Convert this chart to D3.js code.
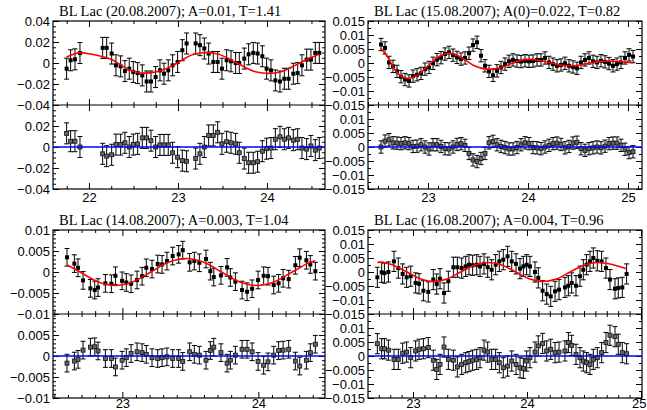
<!DOCTYPE html>
<html><head><meta charset="utf-8">
<script src="https://cdn.jsdelivr.net/npm/d3@7"></script>
<style>body{margin:0;background:#fff}svg{display:block}</style>
</head><body>
<svg id="c" width="647" height="410"></svg>
<script>
// ---------- data ----------
const titles = [
  "BL Lac (20.08.2007); A=0.01, T=1.41",
  "BL Lac (15.08.2007); A(0)=0.022, T=0.82",
  "BL Lac (14.08.2007); A=0.003, T=1.04",
  "BL Lac (16.08.2007); A=0.004, T=0.96"
];
const xTickLabels = [[22,23,24],[23,24,25],[23,24],[23,24,25]];
const yTopTicks = [
  [0.04,0.02,0,-0.02,-0.04],
  [0.015,0.01,0.005,0,-0.005,-0.01,-0.015],
  [0.01,0.005,0,-0.005,-0.01],
  [0.015,0.01,0.005,0,-0.005,-0.01,-0.015]
];
const yBotTicks = [
  [0.02,0,-0.02,-0.04],
  [0.01,0.005,0,-0.005,-0.01,-0.015],
  [0.005,0,-0.005,-0.01],
  [0.01,0.005,0,-0.005,-0.01,-0.015]
];
const errSize = [0.0100, 0.0022, 0.0021, 0.0036];

// Panel 1 (20.08.2007)
const p1X = [21.749,21.794,21.843,21.899,22.154,22.199,22.255,22.303,22.356,22.404,22.453,22.498,22.547,22.599,22.648,22.697,22.749,22.798,22.843,22.891,22.940,22.996,23.049,23.097,23.199,23.247,23.296,23.345,23.397,23.446,23.494,23.547,23.596,23.648,23.689,23.745,23.794,23.846,23.895,23.948,23.996,24.045,24.094,24.146,24.195,24.243,24.296,24.345,24.393,24.446,24.494,24.543,24.588];
const p1Y = [-0.0054,0.0026,0.0035,0.0095,0.0144,0.0144,0.009,-0.0022,-0.0032,-0.0077,-0.0054,-0.0086,-0.0096,-0.0118,-0.0176,-0.0176,-0.0134,-0.007,-0.0102,-0.007,-0.0022,0.001,0.0122,0.0186,0.0186,0.017,0.0138,0.009,0.001,0.001,-0.0054,0.0026,0.0016,0,0,0.0042,0.0083,0.0096,0.009,0.0064,-0.0054,-0.007,-0.0166,-0.0176,-0.015,-0.015,-0.0102,-0.0096,-0.0022,0.0032,0.0032,0.0096,0.0096];
const p1Res = [0.013,0.0055,0.0055,0,-0.0065,-0.0087,-0.0074,0.0023,0.0023,0.004,0,0.0023,0.003,0.0087,0.0087,0.006,0,0.002,0.002,0.002,-0.0055,-0.0097,-0.013,-0.0136,-0.011,-0.0065,0,0.011,0.011,0.014,0.003,0.005,0.004,0.003,-0.0055,-0.011,-0.015,-0.015,-0.014,-0.004,-0.0016,-0.001,0.0074,0.0097,0.0074,0.0087,0.0065,0.0074,-0.001,-0.002,0.001,-0.003,-0.001];
const p1FitX = [21.749,21.85,21.899,22.0,22.154,22.25,22.35,22.45,22.55,22.62,22.75,22.85,22.95,23.05,23.15,23.25,23.32,23.45,23.55,23.65,23.75,23.85,23.95,24.02,24.15,24.25,24.35,24.45,24.588];
const p1FitY = [0.0058,0.009,0.0099,0.0088,0.006,0.0035,-0.0015,-0.0064,-0.009,-0.0096,-0.0085,-0.006,-0.002,0.003,0.0075,0.0095,0.0099,0.0085,0.005,0.0005,-0.004,-0.0078,-0.0095,-0.0099,-0.0085,-0.005,-0.0008,0.0035,0.0083];

// Panel 2 (15.08.2007)
const p2X = [22.53,22.57,22.61,22.65,22.69,22.73,22.77,22.81,22.85,22.89,22.93,22.97,23.01,23.05,23.09,23.13,23.17,23.21,23.25,23.29,23.33,23.37,23.41,23.45,23.49,23.53,23.57,23.61,23.65,23.69,23.73,23.77,23.81,23.85,23.89,23.93,23.97,24.01,24.05,24.09,24.13,24.17,24.21,24.25,24.29,24.33,24.37,24.41,24.45,24.49,24.53,24.57,24.61,24.65,24.69,24.73,24.77,24.81,24.85,24.89,24.93,24.97,25.01,25.05];
const p2Y = [0.0066,0.0054,0.0002,-0.0012,-0.003,-0.0049,-0.0059,-0.0064,-0.0047,-0.0042,-0.0037,-0.0022,-0.0016,-0.0001,0.0012,0.0019,0.0032,0.0038,0.0028,0.002,0.0014,0.0018,0.0035,0.0064,0.0074,0.0026,-0.001,-0.003,-0.0044,-0.0028,-0.0016,-0.0004,0.0006,0.0011,0.0007,0.0005,0.0008,0.0006,0.0007,0.0011,0.0011,0.0018,0.0002,-0.0004,-0.001,-0.0007,-0.0001,-0.001,-0.0014,-0.0019,0.0002,0.0011,0.0018,0.0006,0.0002,0.0008,0.0004,-0.0002,-0.001,-0.0004,0.0002,0.0018,0.0029,0.0023];
const p2Res = [0,0.0021,0.0026,0.0015,0.0014,0.0012,0.0015,0.0012,0.0002,0.0003,0.0008,0,-0.0007,0.0008,0.0008,0.0002,-0.0006,-0.0007,0,0.0009,0.0012,0.0006,-0.0023,-0.0046,-0.0052,-0.0041,-0.0023,0.0015,0.002,0.0008,0.0002,-0.0002,-0.0007,-0.0007,-0.0002,0.0008,0.0015,0.0012,-0.0002,-0.0003,-0.0006,0,0.0006,0.0012,0.0014,0.0009,-0.0003,0.0002,0.0014,0.0017,-0.0006,-0.0012,-0.0006,-0.0003,0,-0.0003,0.0003,0.0012,0.0014,0.0014,0.0006,-0.0008,-0.002,-0.0017];
const p2FitX = [22.53,22.603,22.67,22.737,22.803,22.887,22.987,23.087,23.187,23.253,23.353,23.453,23.553,23.637,23.737,23.837,23.92,24.02,24.12,24.22,24.32,24.42,24.52,24.62,24.72,24.82,24.92,25.053];
const p2FitY = [0.0052,0.0018,-0.0025,-0.0048,-0.0055,-0.0045,-0.0015,0.0018,0.0034,0.0033,0.0015,-0.0008,-0.002,-0.0022,-0.0016,-0.0002,0.0009,0.0013,0.0009,0.0001,-0.0007,-0.001,-0.0007,0,0.0005,0.0007,0.0005,0.0001];

// Panel 3 (14.08.2007)
const p3X = [22.593,22.647,22.674,22.711,22.765,22.797,22.821,22.875,22.919,22.949,22.998,23.029,23.064,23.108,23.145,23.176,23.218,23.26,23.292,23.328,23.37,23.414,23.444,23.495,23.529,23.566,23.615,23.647,23.672,23.725,23.77,23.794,23.831,23.88,23.917,23.954,23.998,24.039,24.071,24.113,24.149,24.182,24.223,24.272,24.304,24.353,24.382,24.419];
const p3Y = [0.0035,0.002,0.001,-0.002,-0.0039,-0.0043,-0.0037,-0.0027,-0.0028,-0.0009,-0.0021,-0.0025,-0.0028,-0.0019,-0.001,0.001,0.0007,0.0019,0.0018,0.0026,0.0038,0.0042,0.0052,0.0023,0.0026,0.0022,0.0031,0.0002,-0.0012,-0.0008,0.0011,-0.0013,-0.0023,-0.0043,-0.0047,-0.004,-0.0019,-0.0009,-0.001,-0.0031,-0.0027,-0.0015,-0.0017,0.0016,0.0034,0.0028,0.0018,0.0002];
const p3Res = [-0.0017,-0.0012,-0.0008,0.0014,0.0021,0.0022,0.0012,-0.0006,-0.0006,-0.0026,-0.001,-0.0004,0.0006,0.001,0.0008,0.0004,-0.0004,-0.0006,-0.0004,-0.0002,-0.0006,-0.0006,-0.0013,0.001,0.0004,0.0002,-0.001,0.0013,0.0021,0.0008,-0.0017,-0.001,0.0002,0.0016,0.0016,0.001,-0.0013,-0.0022,-0.0014,0.0002,0.0013,0.0014,0.0016,-0.0012,-0.0024,-0.001,0.0008,0.0028];
const p3FitX = [22.593,22.689,22.819,22.949,23.079,23.209,23.339,23.469,23.599,23.729,23.859,23.989,24.119,24.249,24.379,24.419];
const p3FitY = [0.0017,0,-0.0023,-0.0032,-0.0023,0,0.0023,0.0032,0.0023,0,-0.0023,-0.0032,-0.0023,0,0.0023,0.0027];

// Panel 4 (16.08.2007)
const p4X = [22.687,22.725,22.749,22.784,22.833,22.871,22.909,22.944,22.98,23.023,23.053,23.091,23.134,23.178,23.208,23.237,23.272,23.31,23.354,23.389,23.427,23.462,23.491,23.523,23.559,23.588,23.623,23.655,23.69,23.725,23.757,23.792,23.83,23.866,23.904,23.939,23.968,23.997,24.026,24.07,24.099,24.137,24.173,24.208,24.246,24.281,24.333,24.363,24.392,24.43,24.465,24.494,24.523,24.553,24.582,24.617,24.655,24.693,24.728,24.772,24.801,24.836,24.874];
const p4Y = [-0.0019,-0.0001,-0.0004,0,0.0038,0.0014,-0.0007,-0.0019,-0.0015,-0.0039,-0.0042,-0.0067,-0.0071,-0.0027,-0.0043,-0.0024,-0.0075,-0.0033,0.0017,0.0017,0.0014,0.002,0.0026,0.0024,0.0026,0.002,0.0029,0.0017,0.0008,0.0026,0.0038,0.0044,0.0056,0.0038,0.0029,0.0012,0.002,0.0026,0.002,0,-0.0021,-0.0067,-0.0079,-0.0087,-0.0069,-0.0063,-0.0055,-0.0049,-0.0039,-0.0049,-0.0015,0.0008,0.0026,0.0038,0.005,0.004,0.0038,0.0014,-0.0027,-0.006,-0.0057,-0.0055,-0.0007];
const p4Res = [0.0044,0.0026,0.0026,0.0021,-0.0012,-0.0012,0.001,0.0014,-0.0006,0.0018,0.0024,0.0026,0.003,-0.0015,-0.0048,-0.003,0.0032,-0.0012,-0.0015,-0.0039,-0.003,-0.0024,-0.002,-0.0015,-0.0012,-0.0006,0.0021,0.0014,-0.0012,-0.0012,-0.0024,-0.0042,-0.0036,-0.0018,-0.003,-0.0042,-0.0044,-0.0018,-0.0006,0.0014,0.0036,0.0045,0.0018,0.0024,0.0012,0.0014,0.0018,0.0048,0.0038,0.0006,-0.0006,-0.0018,-0.0024,-0.003,-0.0012,-0.0006,0.0012,0.0048,0.0074,0.0069,0.0042,0.0012,0.0008];
const p4FitX = [22.687,22.72,22.817,22.937,23.057,23.178,23.298,23.418,23.538,23.658,23.778,23.898,24.018,24.138,24.258,24.378,24.498,24.618,24.738,24.874];
const p4FitY = [0.0034,0.0035,0.0026,0.0002,-0.0023,-0.0034,-0.0025,0,0.0024,0.0034,0.0025,0.0001,-0.0024,-0.0034,-0.0025,0,0.0024,0.0034,0.0028,0.0012];

// ---------- layout ----------
const layout = [
  {l:53, r:325, t:21, m:105, b:189, xd:[21.596,24.652], ym:0.04,  xMinor:0.25, yMinor:0.005, pad:4},
  {l:368,r:642, t:21, m:105, b:189, xd:[22.4,25.14],   ym:0.015, xMinor:0.1,  yMinor:0.0025, pad:4},
  {l:53, r:325, t:230,m:314, b:398, xd:[22.49,24.49],  ym:0.01,  xMinor:0.1,  yMinor:0.001, pad:1},
  {l:368,r:642, t:230,m:314, b:398, xd:[22.605,25.009],ym:0.015, xMinor:0.1,  yMinor:0.0025, pad:1}
];
const series = [
  [p1X,p1Y,p1Res,p1FitX,p1FitY],
  [p2X,p2Y,p2Res,p2FitX,p2FitY],
  [p3X,p3Y,p3Res,p3FitX,p3FitY],
  [p4X,p4Y,p4Res,p4FitX,p4FitY]
];

const svg = d3.select("#c");
const W = 647;
const fmt = d => d === 0 ? "0" : (d < 0 ? "\u2212" : "") + String(+Math.abs(d).toFixed(4));
const TICKFONT = "Liberation Sans, Arial, sans-serif";

function minorVals(dom, step, majors) {
  const lo = Math.ceil(dom[0]/step - 1e-9), hi = Math.floor(dom[1]/step + 1e-9);
  const out = [];
  for (let i = lo; i <= hi; i++) {
    const v = +(i*step).toFixed(6);
    if (!majors.some(m => Math.abs(m - v) < 1e-9)) out.push(v);
  }
  return out;
}

function styleAxis(g) {
  g.select(".domain").remove();
  g.selectAll(".tick line").attr("stroke", "#000").attr("stroke-width", 1);
  g.selectAll(".tick text").attr("font-family", TICKFONT).attr("font-size", 13).attr("fill", "#000");
}

layout.forEach((L, i) => {
  const [xs, ys, rs, fx, fy] = series[i];
  const g = svg.append("g");
  const x = d3.scaleLinear().domain(L.xd).range([L.l, L.r]);
  const yT = d3.scaleLinear().domain([-L.ym, L.ym]).range([L.m, L.t]);
  const yB = d3.scaleLinear().domain([-L.ym, L.ym]).range([L.b, L.m]);
  const err = errSize[i];

  const cT = "clipT" + i, cB = "clipB" + i;
  svg.append("clipPath").attr("id", cT).append("rect").attr("x", L.l).attr("y", L.t).attr("width", L.r - L.l).attr("height", L.m - L.t);
  svg.append("clipPath").attr("id", cB).append("rect").attr("x", L.l).attr("y", L.m).attr("width", L.r - L.l).attr("height", L.b - L.m);

  const xMaj = d3.range(Math.ceil(L.xd[0]), Math.floor(L.xd[1]) + 1);
  const xMin = minorVals(L.xd, L.xMinor, xMaj);
  const yStep = i === 0 ? 0.02 : 0.005;
  const nY = Math.round(L.ym / yStep);
  const yMajAll = d3.range(-nY, nY + 1).map(k => +(k*yStep).toFixed(6));
  const yMin = minorVals([-L.ym, L.ym], L.yMinor, yMajAll);

  const xAxes = [
    {y: L.t, fn: d3.axisTop},
    {y: L.m, fn: d3.axisBottom},
    {y: L.m, fn: d3.axisTop},
    {y: L.b, fn: d3.axisBottom, labels: true}
  ];
  xAxes.forEach(a => {
    const maj = g.append("g").attr("transform", `translate(0,${a.y})`)
      .call(a.fn(x).tickValues(xMaj).tickSize(-6).tickPadding(L.pad)
        .tickFormat(a.labels ? (d => xTickLabels[i].includes(d) ? String(d) : "") : () => ""));
    styleAxis(maj);
    if (a.labels) {
      // keep labels near the right window edge fully inside the picture
      maj.selectAll(".tick").each(function(d) {
        const px = x(d);
        if (px + 8 > W) d3.select(this).select("text").attr("text-anchor", "end").attr("x", W - 1 - px);
      });
    }
    const mn = g.append("g").attr("transform", `translate(0,${a.y})`)
      .call(a.fn(x).tickValues(xMin).tickSize(-3).tickFormat(() => ""));
    styleAxis(mn);
  });

  [[yT, yTopTicks[i]], [yB, yBotTicks[i]]].forEach(([ys_, labs]) => {
    [[d3.axisLeft, L.l, true], [d3.axisRight, L.r, false]].forEach(([fn, xpos, lab]) => {
      const maj = g.append("g").attr("transform", `translate(${xpos},0)`)
        .call(fn(ys_).tickValues(yMajAll).tickSize(-6).tickPadding(3)
          .tickFormat(d => lab && labs.some(v => Math.abs(v - d) < 1e-9) ? fmt(d) : ""));
      styleAxis(maj);
      const mn = g.append("g").attr("transform", `translate(${xpos},0)`)
        .call(fn(ys_).tickValues(yMin).tickSize(-3).tickFormat(() => ""));
      styleAxis(mn);
    });
  });

  g.append("rect").attr("x", L.l).attr("y", L.t).attr("width", L.r - L.l).attr("height", L.b - L.t)
    .attr("fill", "none").attr("stroke", "#000").attr("stroke-width", 1.2);
  g.append("line").attr("x1", L.l).attr("x2", L.r).attr("y1", L.m).attr("y2", L.m)
    .attr("stroke", "#000").attr("stroke-width", 1.2);

  g.append("text").attr("x", L.l + 6).attr("y", L.t - 5)
    .attr("font-family", "Liberation Serif, Times New Roman, serif").attr("font-size", 14.5)
    .attr("fill", "#000").text(titles[i]);

  const top = g.append("g").attr("clip-path", `url(#${cT})`);
  const pts = xs.map((v, k) => ({x: v, y: ys[k], r: rs[k]}));
  const cap = 2.5;
  const eb = top.selectAll("g.eb").data(pts).join("g").attr("class", "eb");
  eb.append("line").attr("x1", d => x(d.x)).attr("x2", d => x(d.x))
    .attr("y1", d => yT(d.y - err)).attr("y2", d => yT(d.y + err)).attr("stroke", "#000").attr("stroke-width", 1);
  eb.append("line").attr("x1", d => x(d.x) - cap).attr("x2", d => x(d.x) + cap)
    .attr("y1", d => yT(d.y + err)).attr("y2", d => yT(d.y + err)).attr("stroke", "#000").attr("stroke-width", 1);
  eb.append("line").attr("x1", d => x(d.x) - cap).attr("x2", d => x(d.x) + cap)
    .attr("y1", d => yT(d.y - err)).attr("y2", d => yT(d.y - err)).attr("stroke", "#000").attr("stroke-width", 1);
  eb.append("rect").attr("x", d => x(d.x) - 2).attr("y", d => yT(d.y) - 2).attr("width", 4).attr("height", 4).attr("fill", "#000");

  const fitPts = fx.map((v, k) => [v, fy[k]]);
  top.append("path").datum(fitPts)
    .attr("d", d3.line().x(d => x(d[0])).y(d => yT(d[1])).curve(d3.curveCatmullRom.alpha(0.5)))
    .attr("fill", "none").attr("stroke", "#ff0000").attr("stroke-width", 1.6);

  const bot = g.append("g").attr("clip-path", `url(#${cB})`);
  const rb = bot.selectAll("g.rb").data(pts).join("g").attr("class", "rb");
  rb.append("line").attr("x1", d => x(d.x)).attr("x2", d => x(d.x))
    .attr("y1", d => yB(d.r - err)).attr("y2", d => yB(d.r + err)).attr("stroke", "#000").attr("stroke-width", 1);
  rb.append("line").attr("x1", d => x(d.x) - cap).attr("x2", d => x(d.x) + cap)
    .attr("y1", d => yB(d.r + err)).attr("y2", d => yB(d.r + err)).attr("stroke", "#000").attr("stroke-width", 1);
  rb.append("line").attr("x1", d => x(d.x) - cap).attr("x2", d => x(d.x) + cap)
    .attr("y1", d => yB(d.r - err)).attr("y2", d => yB(d.r - err)).attr("stroke", "#000").attr("stroke-width", 1);
  bot.append("line").attr("x1", L.l).attr("x2", L.r).attr("y1", yB(0)).attr("y2", yB(0))
    .attr("stroke", "#0000ff").attr("stroke-width", 1.5);
  rb.append("rect").attr("x", d => x(d.x) - 2).attr("y", d => yB(d.r) - 2).attr("width", 4).attr("height", 4)
    .attr("fill", "#666").attr("stroke", "#111").attr("stroke-width", 0.8);
});
</script>
</body></html>
